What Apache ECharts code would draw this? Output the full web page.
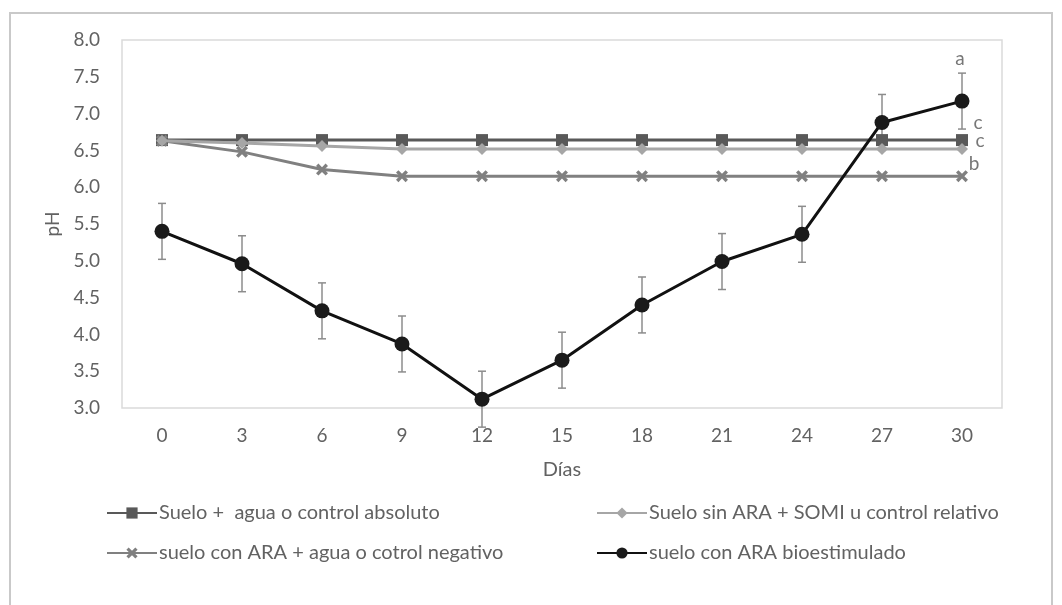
<!DOCTYPE html>
<html>
<head>
<meta charset="utf-8">
<script src="https://cdn.jsdelivr.net/npm/echarts@6/dist/echarts.min.js"></script>
<style>
  html, body { margin: 0; padding: 0; background: #fff; }
  #frame {
    position: absolute; left: 9px; top: 12px; width: 1040px; height: 620px;
    border-left: 2px solid #c9c9c9; border-top: 2px solid #c9c9c9; border-right: 2px solid #c9c9c9;
  }
  #chart { position: absolute; left: 0; top: 0; width: 1062px; height: 605px; }
</style>
</head>
<body>
<div id="frame"></div>
<div id="chart"></div>
<script>
var dias = ['0', '3', '6', '9', '12', '15', '18', '21', '24', '27', '30'];

var controlAbsoluto = [6.64, 6.64, 6.64, 6.64, 6.64, 6.64, 6.64, 6.64, 6.64, 6.64, 6.64];
var controlRelativo = [6.63, 6.60, 6.56, 6.52, 6.52, 6.52, 6.52, 6.52, 6.52, 6.52, 6.52];
var controlNegativo = [6.63, 6.48, 6.24, 6.15, 6.15, 6.15, 6.15, 6.15, 6.15, 6.15, 6.15];
var bioestimulado = [5.40, 4.96, 4.32, 3.87, 3.12, 3.65, 4.40, 4.99, 5.36, 6.88, 7.17];
var errBio = [0.38, 0.38, 0.38, 0.38, 0.38, 0.38, 0.38, 0.38, 0.38, 0.38, 0.38];

var names = [
  'Suelo +  agua o control absoluto',
  'Suelo sin ARA + SOMI u control relativo',
  'suelo con ARA + agua o cotrol negativo',
  'suelo con ARA bioestimulado'
];
var letters = ['c', 'c', 'b', 'a'];

var textColor = '#626262';
var font = 'Lato';

var mychart = echarts.init(document.getElementById('chart'));

function withLetter(values, letter, offset) {
  return values.map(function (v, i) {
    if (i !== values.length - 1) return v;
    return {
      value: v,
      label: {
        show: true, formatter: letter, position: 'inside', offset: offset,
        color: '#777', fontSize: 19, fontFamily: font
      }
    };
  });
}

var crossPath = 'path://M0,2 L2,0 L5,3 L8,0 L10,2 L7,5 L10,8 L8,10 L5,7 L2,10 L0,8 L3,5 Z';

var legendBase = {
  itemWidth: 50, itemHeight: 14, itemGap: 0,
  textStyle: { color: textColor, fontSize: 20, fontFamily: font, padding: [0, 0, 0, -3] },
  selectedMode: false
};

var option = {
  animation: false,
  grid: {
    left: 122, right: 60, top: 40, bottom: 197,
    show: true, borderColor: '#dadada', borderWidth: 1.5, backgroundColor: 'transparent'
  },
  legend: [
    Object.assign({ data: [names[0]], left: 101, top: 498 }, legendBase),
    Object.assign({ data: [names[1]], left: 591, top: 498 }, legendBase),
    Object.assign({ data: [names[2]], left: 101, top: 538 }, legendBase),
    Object.assign({ data: [names[3]], left: 591, top: 538 }, legendBase)
  ],
  xAxis: {
    type: 'category',
    data: dias,
    boundaryGap: true,
    name: 'Días',
    nameLocation: 'middle',
    nameGap: 52,
    nameTextStyle: { color: textColor, fontSize: 20, fontFamily: font },
    axisLine: { show: false },
    axisTick: { show: false },
    axisLabel: { color: textColor, fontSize: 19, fontFamily: font, margin: 18 }
  },
  yAxis: {
    type: 'value',
    min: 3, max: 8, interval: 0.5,
    name: 'pH',
    nameLocation: 'middle',
    nameGap: 60,
    nameTextStyle: { color: textColor, fontSize: 19, fontFamily: font },
    axisLine: { show: false },
    axisTick: { show: false },
    splitLine: { show: false },
    axisLabel: {
      color: textColor, fontSize: 19, fontFamily: font, margin: 22,
      formatter: function (v) { return v.toFixed(1); }
    }
  },
  series: [
    {
      name: names[0], type: 'line', data: withLetter(controlAbsoluto, letters[0], [16, -17]),
      symbol: 'rect', symbolSize: 12,
      lineStyle: { color: '#595959', width: 3 },
      itemStyle: { color: '#595959' },
      z: 3
    },
    {
      name: names[1], type: 'line', data: withLetter(controlRelativo, letters[1], [18, -8]),
      symbol: 'diamond', symbolSize: 12,
      lineStyle: { color: '#a6a6a6', width: 3 },
      itemStyle: { color: '#a6a6a6' },
      z: 4
    },
    {
      name: names[2], type: 'line', data: withLetter(controlNegativo, letters[2], [12, -12]),
      symbol: crossPath, symbolSize: 12,
      lineStyle: { color: '#808080', width: 3 },
      itemStyle: { color: '#808080' },
      z: 3
    },
    {
      type: 'custom',
      name: 'error',
      data: bioestimulado.map(function (v, i) { return [i, v - errBio[i], v + errBio[i]]; }),
      renderItem: function (params, api) {
        var lo = api.coord([api.value(0), api.value(1)]);
        var hi = api.coord([api.value(0), api.value(2)]);
        var half = 4;
        var style = { stroke: '#8c8c8c', lineWidth: 1.5 };
        return {
          type: 'group',
          children: [
            { type: 'line', shape: { x1: lo[0], y1: lo[1], x2: hi[0], y2: hi[1] }, style: style },
            { type: 'line', shape: { x1: hi[0] - half, y1: hi[1], x2: hi[0] + half, y2: hi[1] }, style: style },
            { type: 'line', shape: { x1: lo[0] - half, y1: lo[1], x2: lo[0] + half, y2: lo[1] }, style: style }
          ]
        };
      },
      z: 2
    },
    {
      name: names[3], type: 'line', data: withLetter(bioestimulado, letters[3], [-2, -42]),
      symbol: 'circle', symbolSize: 15,
      lineStyle: { color: '#111', width: 3 },
      itemStyle: { color: '#1a1a1a' },
      z: 5
    }
  ]
};

mychart.setOption(option);
</script>
</body>
</html>
